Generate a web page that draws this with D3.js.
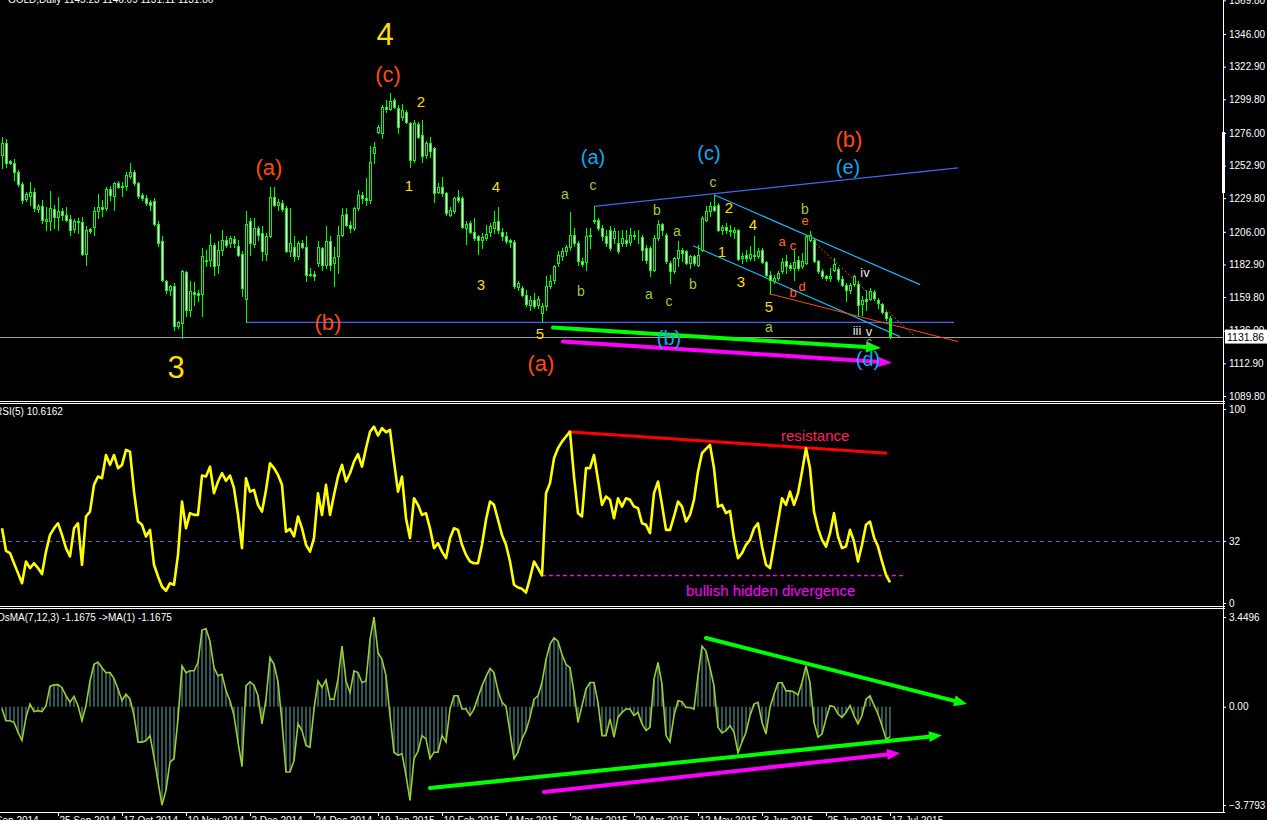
<!DOCTYPE html>
<html><head><meta charset="utf-8">
<script src="https://cdn.jsdelivr.net/npm/d3@7"></script>
<style>
html,body{margin:0;padding:0;background:#000;overflow:hidden}
svg{display:block}
</style></head><body>
<svg id="c" width="1267" height="820"></svg>
<script>
// ---------------- DATA ----------------
const opens = [1260.4,1268.7,1256.2,1254.5,1248.6,1239.9,1229.1,1231.0,1234.5,1222.0,
1224.4,1214.0,1214.0,1222.0,1216.4,1220.4,1218.0,1215.2,1207.9,1213.8,
1212.6,1190.5,1207.9,1209.1,1220.4,1223.4,1222.7,1236.2,1231.5,1240.9,
1237.6,1238.5,1245.6,1248.6,1240.4,1232.2,1229.8,1227.4,1228.1,1211.7,
1199.2,1170.9,1164.5,1167.8,1139.1,1141.5,1177.3,1150.4,1163.1,1162.6,
1162.2,1186.2,1186.2,1196.8,1182.7,1193.3,1199.9,1198.0,1200.8,1196.1,
1190.5,1158.6,1214.0,1197.5,1208.6,1205.1,1190.5,1202.7,1230.5,1225.1,
1226.7,1222.7,1192.1,1195.6,1188.6,1198.0,1195.6,1175.6,1176.3,1183.9,
1194.5,1182.7,1199.2,1183.9,1188.6,1203.9,1218.7,1210.9,1208.6,1222.7,
1232.2,1229.8,1228.6,1262.1,1276.9,1276.2,1294.6,1292.7,1299.3,1293.4,
1287.5,1291.1,1282.8,1256.9,1282.3,1274.6,1260.4,1269.1,1265.1,1234.5,
1238.0,1233.3,1218.0,1220.4,1230.5,1229.8,1208.6,1212.1,1206.2,1202.7,
1200.3,1201.5,1206.2,1208.6,1213.3,1205.6,1203.2,1200.3,1198.5,1166.9,
1166.2,1161.5,1154.4,1158.0,1154.4,1148.6,1153.3,1167.4,1172.1,1183.9,
1188.6,1192.2,1195.2,1203.9,1198.1,1185.1,1184.4,1202.8,1213.4,1214.5,
1208.7,1202.8,1207.5,1201.6,1198.1,1198.1,1200.4,1198.5,1203.9,1202.8,
1202.3,1194.5,1194.5,1179.2,1201.6,1211.7,1203.9,1183.9,1178.0,1187.5,
1192.9,1192.2,1183.9,1188.6,1182.7,1192.9,1214.5,1220.4,1224.0,1225.2,
1207.0,1209.4,1207.5,1206.1,1207.0,1187.2,1189.8,1187.5,1189.8,1189.1,
1192.9,1184.4,1175.7,1171.0,1173.3,1178.0,1185.1,1182.7,1180.4,1185.8,
1181.6,1183.9,1200.4,1200.4,1185.1,1178.5,1175.0,1173.3,1179.2,1179.7,
1172.6,1168.6,1165.1,1169.3,1169.3,1155.2,1158.5,1158.5,1163.2,1158.0,
1155.2,1149.0,1145.23];
const highs = [1272.9,1271.5,1257.0,1257.4,1249.8,1241.6,1234.0,1241.6,1236.9,1226.0,
1228.6,1223.9,1235.2,1225.1,1230.5,1222.7,1223.4,1218.0,1215.0,1215.7,
1216.4,1210.2,1209.0,1223.9,1232.9,1228.6,1237.6,1238.5,1241.6,1242.0,
1241.6,1248.6,1254.5,1249.8,1241.6,1233.4,1232.2,1228.6,1229.8,1213.3,
1202.7,1172.1,1168.5,1169.8,1143.0,1178.7,1178.0,1170.9,1170.2,1165.0,
1194.5,1193.3,1204.6,1198.0,1199.2,1207.4,1202.7,1202.7,1202.7,1200.3,
1192.1,1220.4,1215.7,1215.7,1209.8,1209.8,1205.1,1237.6,1237.6,1229.1,
1228.6,1224.4,1222.7,1202.7,1199.2,1200.3,1202.7,1180.3,1178.0,1199.2,
1195.6,1209.8,1202.7,1195.6,1210.2,1222.7,1222.7,1213.3,1223.9,1235.7,
1234.5,1243.9,1266.8,1269.9,1281.6,1295.8,1299.3,1304.5,1301.0,1295.8,
1296.5,1292.2,1284.0,1285.2,1284.0,1285.2,1270.0,1273.4,1266.3,1240.4,
1245.1,1234.5,1223.9,1230.5,1235.7,1231.0,1213.3,1213.3,1215.7,1203.9,
1205.1,1210.9,1212.1,1220.4,1223.4,1208.6,1206.2,1200.8,1200.3,1170.9,
1167.4,1165.0,1160.3,1162.7,1160.3,1155.6,1174.5,1175.7,1182.7,1192.2,
1194.5,1196.9,1219.7,1208.7,1199.2,1187.5,1208.7,1208.7,1224.0,1215.7,
1211.0,1207.5,1209.8,1208.7,1206.3,1207.5,1207.5,1208.7,1206.3,1207.5,
1203.9,1196.9,1195.7,1203.9,1214.5,1212.2,1205.1,1185.1,1188.0,1199.2,
1194.5,1193.3,1189.8,1189.8,1196.9,1216.9,1224.0,1226.8,1232.2,1226.3,
1211.0,1212.2,1211.0,1209.4,1208.0,1191.0,1193.3,1195.7,1202.8,1194.5,
1194.5,1185.1,1178.0,1175.7,1178.0,1187.5,1189.8,1183.9,1193.3,1188.6,
1191.0,1203.9,1206.3,1201.6,1186.3,1179.7,1175.7,1180.4,1187.5,1180.9,
1174.5,1169.8,1169.8,1175.7,1171.0,1160.4,1165.1,1166.3,1165.1,1159.2,
1155.7,1149.8,1146.09];
const lows = [1251.0,1252.2,1253.8,1242.8,1238.1,1226.3,1228.0,1225.1,1220.4,1220.0,
1212.1,1207.4,1207.0,1208.6,1207.0,1214.5,1213.3,1203.9,1206.0,1205.1,
1189.7,1182.2,1205.0,1203.9,1215.7,1216.9,1221.1,1228.6,1221.6,1237.0,
1231.0,1235.7,1243.9,1239.2,1229.8,1228.6,1225.1,1221.6,1211.0,1195.7,
1170.9,1162.7,1161.5,1136.7,1138.0,1130.9,1146.2,1146.2,1154.4,1156.8,
1146.2,1181.5,1181.5,1175.6,1176.8,1189.7,1195.6,1195.6,1195.6,1188.6,
1160.3,1141.9,1189.7,1195.6,1200.3,1186.2,1186.2,1202.2,1224.4,1221.6,
1220.4,1191.5,1188.6,1185.0,1186.7,1194.5,1170.9,1174.4,1172.1,1182.0,
1179.2,1180.3,1179.2,1167.4,1176.8,1202.7,1210.2,1206.2,1207.4,1221.6,
1226.3,1225.1,1226.3,1254.5,1275.7,1272.2,1291.1,1292.0,1293.4,1275.7,
1285.2,1282.8,1252.2,1255.7,1272.2,1255.7,1258.0,1259.2,1227.4,1233.3,
1231.0,1218.0,1216.9,1219.2,1227.4,1208.6,1197.5,1205.1,1199.9,1190.5,
1194.5,1200.3,1202.7,1205.1,1205.1,1200.3,1198.0,1195.6,1166.2,1165.0,
1160.3,1153.2,1150.9,1152.1,1152.1,1142.0,1151.0,1166.3,1169.8,1181.6,
1186.3,1189.8,1193.4,1195.7,1182.7,1181.6,1179.2,1194.5,1212.2,1207.5,
1200.4,1195.7,1193.3,1198.1,1191.0,1195.7,1196.2,1196.5,1200.8,1198.1,
1186.3,1183.9,1174.5,1178.0,1200.4,1203.9,1183.9,1169.8,1176.9,1181.6,
1185.1,1183.5,1180.4,1182.7,1181.6,1192.2,1213.4,1216.9,1220.4,1206.3,
1204.7,1205.1,1202.8,1201.6,1185.8,1183.9,1185.1,1186.3,1186.3,1187.5,
1183.9,1174.5,1162.7,1169.8,1172.1,1176.9,1176.9,1179.2,1172.1,1179.2,
1180.4,1183.5,1199.2,1184.4,1176.9,1173.3,1172.1,1171.0,1178.0,1171.0,
1167.4,1156.8,1162.7,1167.4,1147.4,1147.4,1150.9,1158.0,1158.0,1152.1,
1148.6,1143.8,1131.11];
const closes = [1268.7,1254.5,1254.5,1248.6,1239.9,1228.6,1232.9,1234.5,1222.7,1224.4,
1214.5,1215.0,1222.7,1216.4,1220.4,1218.0,1214.5,1207.4,1213.3,1212.6,
1190.5,1207.0,1206.7,1220.4,1223.4,1222.5,1236.2,1232.2,1240.9,1238.0,
1238.5,1246.3,1248.6,1240.4,1231.0,1229.8,1226.3,1225.1,1211.7,1198.0,
1172.1,1165.0,1167.8,1139.1,1141.9,1178.0,1150.4,1163.8,1161.9,1161.5,
1188.6,1185.5,1196.8,1181.5,1193.3,1200.3,1196.6,1201.5,1198.0,1189.7,
1166.2,1211.7,1198.0,1208.6,1203.9,1192.1,1202.7,1230.5,1225.1,1227.4,
1222.0,1192.1,1198.0,1188.6,1198.0,1195.6,1175.6,1176.3,1174.9,1195.6,
1182.7,1199.2,1182.7,1188.1,1203.9,1218.0,1210.9,1208.6,1222.7,1232.2,
1229.8,1228.6,1255.7,1266.3,1280.0,1294.6,1292.7,1298.5,1294.6,1280.5,
1292.2,1284.0,1256.9,1282.8,1273.4,1259.7,1268.7,1263.5,1233.3,1238.0,
1233.3,1219.2,1221.6,1229.8,1228.6,1209.3,1211.7,1206.2,1201.5,1200.3,
1202.2,1204.6,1210.2,1212.6,1207.0,1202.7,1199.2,1198.5,1167.4,1169.8,
1161.5,1155.1,1158.0,1153.7,1158.4,1153.3,1167.4,1171.0,1181.6,1189.8,
1192.2,1195.2,1203.9,1198.1,1185.1,1183.5,1203.2,1203.9,1214.5,1208.7,
1202.8,1198.1,1194.5,1206.3,1192.2,1201.6,1198.1,1203.9,1202.8,1203.2,
1193.4,1186.3,1179.2,1201.6,1211.5,1207.5,1185.1,1178.0,1187.5,1193.3,
1191.0,1183.9,1188.6,1183.9,1189.8,1215.7,1220.4,1224.0,1221.6,1207.5,
1209.4,1207.0,1206.3,1207.5,1186.7,1189.1,1187.5,1190.5,1188.6,1192.2,
1184.4,1175.7,1172.1,1173.3,1176.9,1184.4,1181.6,1180.4,1184.4,1180.4,
1185.1,1202.8,1203.9,1185.1,1178.0,1175.0,1173.3,1175.0,1183.5,1172.6,
1168.6,1165.1,1168.6,1174.5,1154.5,1158.0,1156.8,1163.9,1159.2,1155.7,
1149.0,1145.0,1131.86];
const rsi = [38.5,26.9,25.7,20.5,15.4,10.2,21.4,18.0,20.5,18.0,
14.9,26.5,35.1,38.5,41.1,35.1,28.3,24.0,38.5,41.1,
19.7,44.6,47.1,60.9,65.2,64.3,76.3,71.2,76.3,69.5,
71.2,78.9,78.0,57.4,42.0,40.3,34.3,37.7,19.7,13.7,
8.5,6.3,10.2,9.4,24.8,52.3,38.5,46.3,45.4,45.4,
65.7,65.2,70.3,56.6,62.6,66.9,63.0,65.7,59.2,45.4,
28.3,64.3,57.4,58.3,50.6,47.1,58.3,72.0,69.5,66.0,
60.9,36.8,38.2,34.3,44.6,38.5,30.0,26.5,33.4,56.6,
45.4,60.9,45.4,55.7,65.2,71.2,62.6,66.9,72.9,76.7,
70.3,79.8,88.3,90.9,86.3,90.1,88.0,89.2,72.9,57.4,
65.2,43.7,33.4,54.0,50.6,45.4,46.3,38.5,28.3,30.8,
26.5,23.1,33.4,38.5,37.7,30.0,24.8,21.4,20.5,20.5,
30.0,42.9,52.3,50.6,42.9,35.1,30.0,21.4,9.4,8.0,
7.3,5.4,12.8,21.4,18.0,14.2,56.6,61.8,74.6,79.8,
83.2,85.8,88.3,65.2,46.3,44.6,69.5,69.5,76.3,63.5,
50.6,54.9,53.2,43.7,54.0,49.7,54.0,53.2,49.7,48.9,
41.1,40.3,36.0,56.6,62.6,50.6,37.7,37.7,44.6,52.3,
49.7,42.0,45.4,53.2,67.7,77.2,79.4,81.5,69.5,49.7,
50.6,46.3,47.5,33.4,23.1,25.7,30.0,32.5,38.5,41.1,
29.1,19.7,18.0,30.0,42.0,54.0,50.6,57.4,50.6,56.6,
67.7,79.8,69.5,47.1,38.5,32.5,29.1,36.0,46.3,34.3,
28.3,29.1,37.7,31.7,21.4,30.0,40.3,42.0,33.8,29.1,
21.4,14.5,10.6162];
const osma = [-0.09,-0.54,-0.54,-0.60,-0.98,-1.30,-0.41,0.10,-0.19,-0.15,
-0.19,0.04,0.78,0.84,0.85,0.73,0.42,0.17,0.40,0.04,
-0.54,0.04,0.99,1.63,1.72,1.50,1.31,1.31,1.08,0.68,
0.24,0.48,0.29,-0.34,-1.36,-1.36,-1.31,-1.11,-1.94,-2.89,
-3.7793,-3.21,-2.13,-2.00,-0.47,1.57,1.31,1.38,1.38,1.70,
2.95,3.00,2.52,1.50,1.19,1.25,0.61,0.23,-0.34,-1.36,
-2.30,0.80,0.96,0.83,0.42,-0.66,0.29,1.89,1.63,0.96,
-0.60,-2.51,-2.51,-2.07,-0.66,-0.92,-1.49,-1.56,-0.09,0.99,
0.74,1.03,0.29,0.29,1.06,2.33,0.99,0.55,1.38,1.31,
0.93,0.99,2.59,3.4496,2.08,1.82,1.19,-0.34,-1.75,-1.87,
-1.81,-2.64,-3.60,-2.00,-1.72,-1.11,-1.24,-2.00,-1.75,-1.75,
-1.11,-1.36,-0.09,0.42,0.42,-0.09,-0.09,-0.34,-0.09,0.36,
0.80,1.16,1.47,1.31,0.61,0.17,0.01,-0.98,-2.00,-1.75,
-1.24,-0.92,-0.41,0.29,0.42,0.93,1.82,2.40,2.65,2.52,
2.01,1.63,1.50,0.55,-0.60,0.04,0.68,0.93,0.93,0.17,
-1.11,-1.11,-0.47,-1.17,-0.41,-0.22,-0.09,-0.09,-0.34,-0.22,
-0.66,-0.92,-0.79,1.06,1.70,0.87,-1.11,-1.36,-0.34,0.23,
0.19,-0.03,-0.03,-0.09,1.19,2.33,2.14,1.50,0.80,-0.79,
-1.01,-0.92,-0.73,-0.98,-1.77,-1.36,-0.98,-0.34,0.10,0.17,
-0.60,-1.05,-0.03,0.48,0.91,0.93,0.61,0.61,0.57,0.45,
0.93,1.57,0.93,-0.60,-1.17,-1.05,-0.47,0.04,0.00,-0.28,
-0.41,-0.22,0.04,-0.34,-0.66,-0.34,0.29,0.42,0.06,-0.28,
-0.73,-1.24,-1.1675];
const priceTicks = [1089.80,1112.90,1136.00,1159.80,1182.90,1206.00,1229.80,1252.90,1276.00,1299.80,1322.90,1346.00,1369.80];
const rsiTicks = [100, 32, 0];
const osmaTicks = [3.4496, 0, -3.7793];
const dateTickBars = [-4,14,30,46,62,78,94,110,126,142,158,174,190,206,222];
const dateLabels = ["3 Sep 2014","25 Sep 2014","17 Oct 2014","10 Nov 2014","2 Dec 2014","24 Dec 2014","19 Jan 2015","10 Feb 2015","4 Mar 2015","26 Mar 2015","20 Apr 2015","12 May 2015","3 Jun 2015","25 Jun 2015","17 Jul 2015"];
const lastPrice = 1131.86;
const rsiLevel = 32;
const headerText = "GOLD,Daily  1145.23 1146.09 1131.11 1131.86";
const rsiTitle = "RSI(5) 10.6162";
const osmaTitle = "OsMA(7,12,3) -1.1675  ->MA(1) -1.1675";

// ---------------- ANNOTATIONS (bar index, value) ----------------
const GOLD="#ffdd00", ORED="#ff4a10", SKY="#10a8f0", YG="#9acd32", ORS="#ff6a20";
const priceNotes = [
 ["4",95.75,1345.3,GOLD,31],["(c)",96.5,1317.0,ORED,22],["2",104.75,1297.9,GOLD,15],
 ["1",101.75,1238.6,GOLD,15],["4",123.5,1237.8,GOLD,15],["3",119.75,1168.6,GOLD,15],
 ["5",134.5,1133.9,GOLD,15],["(a)",66.75,1251.3,ORED,22],["(b)",81.5,1141.7,ORED,22],
 ["3",43.5,1109.9,GOLD,31],["(a)",134.75,1112.7,ORED,22],["(a)",147.75,1259.1,SKY,20],
 ["(c)",176.75,1261.9,SKY,20],["(b)",211.75,1271.1,ORED,22],["(e)",211.5,1252.0,SKY,20],
 ["(b)",166.75,1131.1,SKY,20],["(d)",216.5,1116.3,SKY,20],
 ["a",140.75,1232.9,YG,14],["c",147.75,1239.3,YG,14],["b",144.75,1164.3,YG,14],
 ["b",163.75,1221.6,YG,14],["a",168.75,1206.7,YG,14],["a",161.75,1162.2,YG,14],
 ["c",166.75,1157.3,YG,14],["b",172.75,1169.3,YG,14],["c",177.75,1241.4,YG,14],
 ["b",200.75,1222.3,YG,14],["a",191.75,1138.9,YG,14],
 ["2",181.75,1223.0,GOLD,15],["4",187.75,1211.0,GOLD,15],["1",180,1191.9,GOLD,15],
 ["3",184.75,1170.7,GOLD,15],["5",191.75,1153.0,GOLD,15],
 ["e",200.75,1213.8,ORS,13],["a",195,1198.9,ORS,13],["c",197.75,1196.1,ORS,13],
 ["d",200,1167.2,ORS,13],["b",197.75,1162.9,ORS,13],
 ["iv",215.75,1177.0,"#e8e8e8",13],["iii",213.75,1136.0,"#e8e8e8",13],["v",216.75,1135.3,"#e8e8e8",13],["c",216.75,1128.3,"#9a9a9a",12]
];
const priceLines = [ // [bar0,v0,bar1,v1,color,width,dash]
 [148,1224.0,239,1251.3,"#4466ee",1.2,null],
 [61,1141.9,238,1141.9,"#4466ee",1.2,null],
 [178,1232.2,229.5,1168.6,"#18b4f0",1.2,null],
 [172.75,1196.1,224.5,1131.8,"#18b4f0",1.2,null],
 [191.75,1162.2,239,1128.3,"#ff4a10",1,null],
 [201.2,1203.6,228.75,1130.4,"#ff4a10",1,"2,2"]
];
const priceArrows = [ // [bar0,v0,bar1,v1,color]
 [137.75,1138.2,219.75,1123.8,"#00ff00"],
 [140.25,1128.3,222.5,1113.4,"#ff00ff"]
];
const rsiLines = [[141.5,88.3,221.25,77.2,"#ff0000",3,null],[135,14.1,225.75,14.1,"#ff00ff",1.3,"4,3"]];
const rsiNotes = [["resistance",194.75,83.5,"#ff2060",15],["bullish hidden divergence",171,3.6,"#ff00ff",15]];
const osmaArrows = [
 [176,2.64,241.25,0.1,"#00ff00"],
 [107,-3.13,235,-1.10,"#00ff00"],
 [135.5,-3.28,224.5,-1.78,"#ff00ff"]
];

// ---------------- DRAW ----------------
const FONT = '"Liberation Sans", Arial, sans-serif';
const svg = d3.select("#c");
const AX = 1223;
svg.append("rect").attr("width",1267).attr("height",820).attr("fill","#000");
const n = closes.length;
const x = d3.scaleLinear().domain([0, n-1]).range([2, 890]);
const yP = d3.scaleLinear().domain([1089.8, 1346.0]).range([396, 34]);
const yR = d3.scaleLinear().domain([0, 100]).range([603, 409]);
const yO = d3.scaleLinear().domain([-3.7793, 3.4496]).range([805, 617]);

const defs = svg.append("defs");
[["cP",0,0,AX,401],["cR",0,405,AX,201],["cO",0,610,AX,201]].forEach(([id,x0,y0,w,h])=>{
  defs.append("clipPath").attr("id",id).append("rect").attr("x",x0).attr("y",y0).attr("width",w).attr("height",h);
});
const gPrice = svg.append("g").attr("clip-path","url(#cP)");
const gRsi = svg.append("g").attr("clip-path","url(#cR)");
const gOsma = svg.append("g").attr("clip-path","url(#cO)");

// current price line
gPrice.append("line").attr("x1",0).attr("x2",AX).attr("y1",Math.round(yP(lastPrice))+0.5).attr("y2",Math.round(yP(lastPrice))+0.5).attr("stroke","#a0a0a0").attr("stroke-width",1);

// trend lines in price pane
priceLines.forEach(([b0,v0,b1,v1,c,w,d])=>{
  const l = gPrice.append("line").attr("x1",x(b0)).attr("y1",yP(v0)).attr("x2",x(b1)).attr("y2",yP(v1)).attr("stroke",c).attr("stroke-width",w);
  if(d) l.attr("stroke-dasharray",d);
});

// candles
const idx = d3.range(n);
const px = i => Math.round(x(i));
gPrice.selectAll("line.wick").data(idx).join("line").attr("class","wick")
  .attr("x1",i=>px(i)+0.5).attr("x2",i=>px(i)+0.5)
  .attr("y1",i=>Math.round(yP(highs[i]))).attr("y2",i=>Math.round(yP(lows[i]))+1)
  .attr("stroke","#00ff00").attr("stroke-width",1);
gPrice.selectAll("rect.body").data(idx).join("rect").attr("class","body")
  .attr("x",i=>px(i)-0.5)
  .attr("y",i=>Math.round(yP(Math.max(opens[i],closes[i])))+0.5)
  .attr("width",2)
  .attr("height",i=>Math.max(0,Math.round(yP(Math.min(opens[i],closes[i])))-Math.round(yP(Math.max(opens[i],closes[i])))))
  .attr("fill",i=> i===n-1 ? "#00ff00" : (closes[i]>=opens[i] ? "#000" : "#fff"))
  .attr("stroke","#00ff00").attr("stroke-width",1);

function arrow(g,x0,y0,x1,y1,color,w,hl,hw){
  const a=Math.atan2(y1-y0,x1-x0);
  const bx=x1-hl*Math.cos(a), by=y1-hl*Math.sin(a);
  g.append("line").attr("x1",x0).attr("y1",y0).attr("x2",bx).attr("y2",by)
    .attr("stroke",color).attr("stroke-width",w).attr("stroke-linecap","round");
  const nx=-Math.sin(a)*hw/2, ny=Math.cos(a)*hw/2;
  g.append("path").attr("d",`M${x1},${y1}L${bx+nx},${by+ny}L${bx-nx},${by-ny}Z`).attr("fill",color);
}
priceArrows.forEach(([b0,v0,b1,v1,c])=>arrow(gPrice,x(b0),yP(v0),x(b1),yP(v1),c,4,15,11));

// price annotations
gPrice.selectAll("text.note").data(priceNotes).join("text").attr("class","note")
  .attr("x",d=>x(d[1])).attr("y",d=>yP(d[2]))
  .attr("text-anchor","middle").attr("dominant-baseline","central")
  .attr("fill",d=>d[3]).attr("font-size",d=>d[4]).attr("font-family",FONT)
  .text(d=>d[0]);

// RSI pane
gRsi.append("line").attr("x1",0).attr("x2",AX).attr("y1",Math.round(yR(rsiLevel))+0.5).attr("y2",Math.round(yR(rsiLevel))+0.5)
  .attr("stroke","#6a5acd").attr("stroke-width",1).attr("stroke-dasharray","4,4");
rsiLines.forEach(([b0,v0,b1,v1,c,w,d])=>{
  const l=gRsi.append("line").attr("x1",x(b0)).attr("y1",yR(v0)).attr("x2",x(b1)).attr("y2",yR(v1)).attr("stroke",c).attr("stroke-width",w);
  if(d) l.attr("stroke-dasharray",d);
});
gRsi.append("path").datum(rsi).attr("fill","none").attr("stroke","#ffff00").attr("stroke-width",2.6)
  .attr("stroke-linejoin","round")
  .attr("d",d3.line().x((d,i)=>x(i)).y(d=>yR(d)));
gRsi.selectAll("text.note").data(rsiNotes).join("text").attr("class","note")
  .attr("x",d=>x(d[1])).attr("y",d=>yR(d[2]))
  .attr("fill",d=>d[3]).attr("font-size",d=>d[4]).attr("font-family",FONT).text(d=>d[0]);

// OsMA pane
gOsma.selectAll("rect.hist").data(idx).join("rect").attr("class","hist")
  .attr("x",i=>px(i)-1).attr("width",2)
  .attr("y",i=>Math.min(yO(0),yO(osma[i]))).attr("height",i=>Math.abs(yO(osma[i])-yO(0)))
  .attr("fill","#2f5555");
gOsma.append("path").datum(osma).attr("fill","none").attr("stroke","#9acd32").attr("stroke-width",1.6)
  .attr("d",d3.line().x((d,i)=>x(i)).y(d=>yO(d)));
osmaArrows.forEach(([b0,v0,b1,v1,c])=>arrow(gOsma,x(b0),yO(v0),x(b1),yO(v1),c,4,13,11));

// pane borders
const bl = (x1,y1,x2,y2)=>svg.append("line").attr("x1",x1).attr("y1",y1).attr("x2",x2).attr("y2",y2).attr("stroke","#fff").attr("stroke-width",1);
bl(AX+0.5,0,AX+0.5,812.5);
[401.5,403.5,606.5,608.5,812.5].forEach(y=>bl(0,y,AX+2,y));
svg.append("rect").attr("x",1222).attr("y",132).attr("width",3).attr("height",61).attr("fill","#fff");

// axes
function styleAxis(g){
  g.select(".domain").remove();
  g.selectAll("line").attr("stroke","#fff");
  g.selectAll("text").attr("fill","#fff").attr("font-size",10).attr("font-family",FONT);
}
const gAP = svg.append("g").attr("transform",`translate(${AX},0)`)
  .call(d3.axisRight(yP).tickValues(priceTicks).tickFormat(d3.format(".2f")).tickSize(3).tickPadding(3));
styleAxis(gAP);
const gAR = svg.append("g").attr("transform",`translate(${AX},0)`)
  .call(d3.axisRight(yR).tickValues(rsiTicks).tickFormat(d3.format("d")).tickSize(3).tickPadding(3));
styleAxis(gAR);
const gAO = svg.append("g").attr("transform",`translate(${AX},0)`)
  .call(d3.axisRight(yO).tickValues(osmaTicks).tickFormat(d=>d===0?"0.00":d3.format(".4f")(d)).tickSize(3).tickPadding(3));
styleAxis(gAO);
const gAX = svg.append("g").attr("transform","translate(0,812)")
  .call(d3.axisBottom(x).tickValues(dateTickBars).tickFormat((d,i)=>dateLabels[i]).tickSize(4).tickPadding(1));
styleAxis(gAX);
gAX.selectAll("text").attr("text-anchor","start").attr("dx",1);

// last price box
const ly = yP(lastPrice);
svg.append("rect").attr("x",AX+2).attr("y",ly-7).attr("width",42).attr("height",14).attr("fill","#fff");
svg.append("text").attr("x",AX+4).attr("y",ly+4).attr("fill","#000").attr("font-size",10.5).attr("font-family",FONT).text(d3.format(".2f")(lastPrice));

// titles
svg.append("text").attr("x",8).attr("y",3).attr("fill","#fff").attr("font-size",10).attr("font-family",FONT).text(headerText);
svg.append("text").attr("x",-5).attr("y",415).attr("fill","#fff").attr("font-size",10).attr("font-family",FONT).text(rsiTitle);
svg.append("text").attr("x",-3).attr("y",621).attr("fill","#fff").attr("font-size",10).attr("font-family",FONT).text(osmaTitle);
</script>
</body></html>
